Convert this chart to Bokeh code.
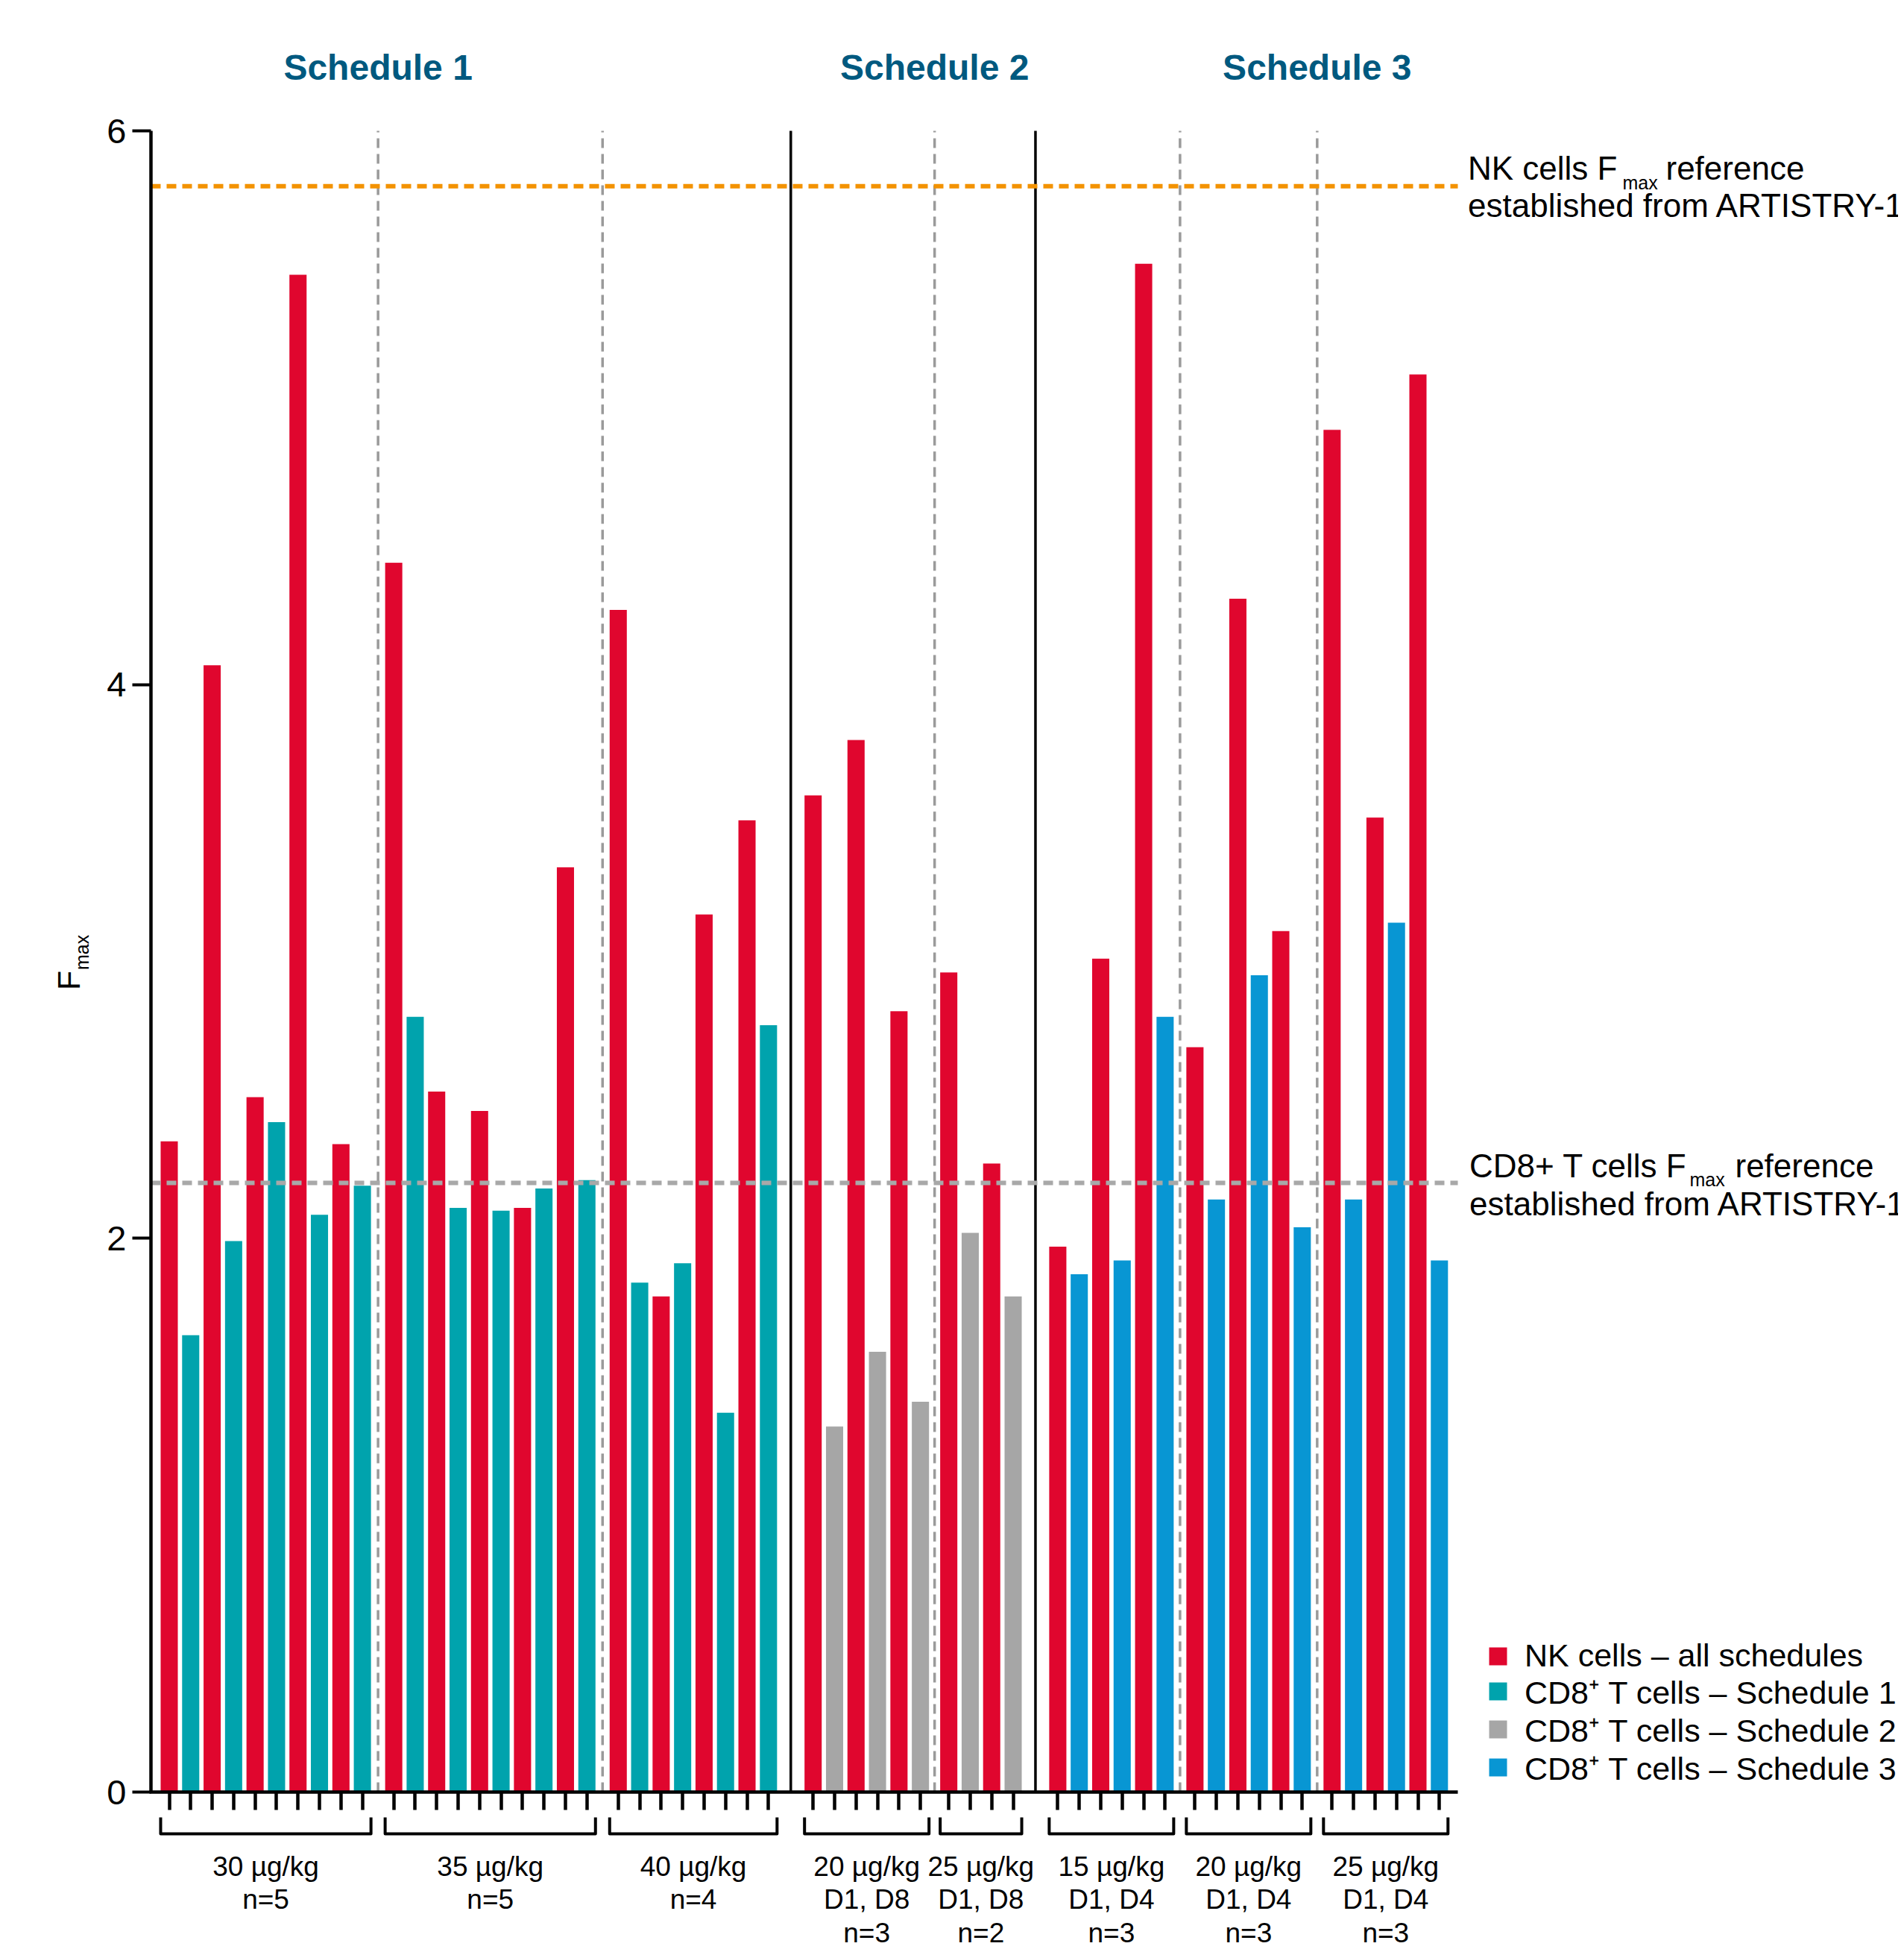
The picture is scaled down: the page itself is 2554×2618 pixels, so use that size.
import math
from bokeh.plotting import figure
from bokeh.models import (Range1d, FixedTicker, LinearAxis, Legend, LegendItem,
                          ColumnDataSource)
from bokeh.embed import file_html
from bokeh.resources import INLINE
from bokeh.core.properties import value

FONT = "Liberation Sans"

# ---------------- data ----------------
group_dose = ["30 µg/kg", "35 µg/kg", "40 µg/kg", "20 µg/kg", "25 µg/kg",
              "15 µg/kg", "20 µg/kg", "25 µg/kg"]
group_days = ["", "", "", "D1, D8", "D1, D8", "D1, D4", "D1, D4", "D1, D4"]
group_n = ["n=5", "n=5", "n=4", "n=3", "n=2", "n=3", "n=3", "n=3"]
group_schedule = [1, 1, 1, 2, 2, 3, 3, 3]

# F_max per patient (NK cells, CD8+ T cells)
nk_s1_30 = [2.35, 4.07, 2.51, 5.48, 2.34]
cd8_s1_30 = [1.65, 1.99, 2.42, 2.085, 2.19]
nk_s1_35 = [4.44, 2.53, 2.46, 2.11, 3.34]
cd8_s1_35 = [2.80, 2.11, 2.10, 2.18, 2.21]
nk_s1_40 = [4.27, 1.79, 3.17, 3.51]
cd8_s1_40 = [1.84, 1.91, 1.37, 2.77]
nk_s2_20 = [3.60, 3.80, 2.82]
cd8_s2_20 = [1.32, 1.59, 1.41]
nk_s2_25 = [2.96, 2.27]
cd8_s2_25 = [2.02, 1.79]
nk_s3_15 = [1.97, 3.01, 5.52]
cd8_s3_15 = [1.87, 1.92, 2.80]
nk_s3_20 = [2.69, 4.31, 3.11]
cd8_s3_20 = [2.14, 2.95, 2.04]
nk_s3_25 = [4.92, 3.52, 5.12]
cd8_s3_25 = [2.14, 3.14, 1.92]

nk_groups = [nk_s1_30, nk_s1_35, nk_s1_40, nk_s2_20, nk_s2_25, nk_s3_15, nk_s3_20, nk_s3_25]
cd8_groups = [cd8_s1_30, cd8_s1_35, cd8_s1_40, cd8_s2_20, cd8_s2_25, cd8_s3_15, cd8_s3_20, cd8_s3_25]

nk_reference = 5.80
cd8_reference = 2.20
y_ticks = [0, 2, 4, 6]
y_max = 6
schedule_titles = ["Schedule 1", "Schedule 2", "Schedule 3"]
legend_labels = ["NK cells \u2013 all schedules",
                 "CD8\u207a T cells \u2013 Schedule 1",
                 "CD8\u207a T cells \u2013 Schedule 2",
                 "CD8\u207a T cells \u2013 Schedule 3"]

# ---------------- style / layout ----------------
RED = "#E0062E"
CD8_COLORS = {1: "#00A3AD", 2: "#A6A6A6", 3: "#0896D3"}
TITLE_BLUE = "#00597F"
ORANGE = "#F39200"
REF_GRAY = "#A8A8A8"
SEP_GRAY = "#9A9A9A"

BAR_W = 0.8
GROUP_GAPS = [0.46, 0.46, 1.08, 0.32, 1.08, 0.39, 0.39]
SEP_SOLID = [False, False, True, False, True, False, False]
TITLE_SEP = [0, 3, 6]

W, H = 2546, 2610
X0_PX = 226.5     # pixel column of the first bar centre
XU = 28.79        # pixels per bar step
Y0_PX = 2403.0    # pixel row of F = 0
YU = 371.33       # pixels per F unit
AX_LEFT_PX, AX_RIGHT_PX = 202.0, 1955.0
DROP = 0.35       # fraction of the font size the text is drawn below its anchor


def xd(px):
    return (px - X0_PX) / XU


def yd(px):
    return (Y0_PX - px) / YU


def ypx(v):
    return Y0_PX - v * YU


def base(px, size):
    # data y for a text whose baseline should sit at pixel row px
    return yd(px - DROP * size)


# ---------------- positions ----------------
nk_x, nk_top = [], []
cd8_x = {1: [], 2: [], 3: []}
cd8_top = {1: [], 2: [], 3: []}
group_first, group_last = [], []
start = 0.0
for g in range(len(nk_groups)):
    n = len(nk_groups[g])
    for k in range(n):
        nk_x.append(start + 2 * k)
        nk_top.append(nk_groups[g][k])
        s = group_schedule[g]
        cd8_x[s].append(start + 2 * k + 1)
        cd8_top[s].append(cd8_groups[g][k])
    group_first.append(start)
    last = start + 2 * n - 1
    group_last.append(last)
    if g < len(GROUP_GAPS):
        start = last + 1 + GROUP_GAPS[g]

all_centers = sorted(nk_x + cd8_x[1] + cd8_x[2] + cd8_x[3])
sep_x = [(group_last[g] + group_first[g + 1]) / 2 for g in range(len(GROUP_GAPS))]
ax_left, ax_right = xd(AX_LEFT_PX), xd(AX_RIGHT_PX)

# ---------------- figure ----------------
p = figure(width=W, height=H, x_range=Range1d(xd(0), xd(W)),
           y_range=Range1d(yd(H), yd(0)),
           output_backend="svg", toolbar_location=None,
           x_axis_type=None, y_axis_type=None, min_border=0)
p.xgrid.visible = False
p.ygrid.visible = False
p.outline_line_color = None
p.background_fill_color = "white"
p.border_fill_color = "white"

r_nk = p.vbar(x="x", top="top", width=BAR_W, bottom=0,
              source=ColumnDataSource(dict(x=nk_x, top=nk_top)),
              fill_color=RED, line_color=None)
r_cd8 = {}
for s in (1, 2, 3):
    r_cd8[s] = p.vbar(x="x", top="top", width=BAR_W, bottom=0,
                      source=ColumnDataSource(dict(x=cd8_x[s], top=cd8_top[s])),
                      fill_color=CD8_COLORS[s], line_color=None)

# separators
solid_x = [x for x, sd in zip(sep_x, SEP_SOLID) if sd]
dash_x = [x for x, sd in zip(sep_x, SEP_SOLID) if not sd]
p.segment(x0=solid_x, y0=[0] * len(solid_x), x1=solid_x, y1=[y_max] * len(solid_x),
          line_color="black", line_width=3.5)
p.segment(x0=dash_x, y0=[0] * len(dash_x), x1=dash_x, y1=[y_max] * len(dash_x),
          line_color=SEP_GRAY, line_width=3.5, line_dash="13 8")

# reference lines
p.segment(x0=[ax_left], y0=[nk_reference], x1=[ax_right], y1=[nk_reference],
          line_color=ORANGE, line_width=6, line_dash="13 8")
p.segment(x0=[ax_left], y0=[cd8_reference], x1=[ax_right], y1=[cd8_reference],
          line_color=REF_GRAY, line_width=6, line_dash="13 8")

# axes (drawn at fixed data locations)
xa = LinearAxis(fixed_location=0, bounds=(ax_left - 2.2 / XU, ax_right))
xa.ticker = FixedTicker(ticks=all_centers, minor_ticks=[])
xa.major_tick_in = 0
xa.major_tick_out = 24
xa.major_tick_line_width = 4.5
xa.minor_tick_out = 0
xa.axis_line_width = 4.5
xa.major_label_overrides = {float(t): "" for t in all_centers}
xa.major_label_standoff = 0
p.add_layout(xa, "below")

ya = LinearAxis(fixed_location=ax_left, bounds=(0, y_max))
ya.ticker = FixedTicker(ticks=y_ticks, minor_ticks=[])
ya.major_tick_in = 0
ya.major_tick_out = 25
ya.major_tick_line_width = 4
ya.minor_tick_out = 0
ya.axis_line_width = 4.5
ya.major_label_text_font = FONT
ya.major_label_text_font_size = "47px"
ya.major_label_text_color = "black"
ya.major_label_standoff = 8
p.add_layout(ya, "left")

txt = dict(text_font=value(FONT), text_color="black", text_baseline="alphabetic",
           text_align="left")

# y axis label F_max (rotated: baseline is a pixel column)
p.text(x=[xd(107 - DROP * 43)], y=[yd(1327.5)], text=["F"], angle=math.pi / 2,
       text_font_size="43px", **txt)
p.text(x=[xd(118 - DROP * 25)], y=[yd(1300.5)], text=["max"], angle=math.pi / 2,
       text_font_size="25px", **txt)

# schedule titles
p.text(x=[sep_x[i] for i in TITLE_SEP], y=[base(107, 48)] * 3, text=schedule_titles,
       text_align="center", text_baseline="alphabetic", text_font=value(FONT),
       text_font_style="bold", text_font_size="48px", text_color=TITLE_BLUE)


# reference annotations
def ref_note(v, first, px_first, px_sub, px_ref, d1, d2, dsub):
    b = ypx(v)
    p.text(x=[xd(px_first), xd(px_ref), xd(px_first)],
           y=[base(b - d1, 44), base(b - d1, 44), base(b + d2, 44)],
           text=[first, "reference", "established from ARTISTRY-1"],
           text_font_size="44px", **txt)
    p.text(x=[xd(px_sub)], y=[base(b + dsub, 25)], text=["max"],
           text_font_size="25px", **txt)


ref_note(nk_reference, "NK cells F", 1968.5, 2176, 2234, 8.5, 41.5, 3.5)
ref_note(cd8_reference, "CD8+ T cells F", 1970.5, 2266, 2327, 7.5, 43, 3.7)

# group brackets and labels
BR_TOP_PX, BR_BOT_PX = 2437, 2459
LINE_PX = [2516, 2560, 2605]
LABEL_SIZE = 37
bxs, bys, tx, ty, tt = [], [], [], [], []
for g in range(len(group_first)):
    a = group_first[g] - BAR_W / 2
    b = group_last[g] + BAR_W / 2
    bxs.append([a, a, b, b])
    bys.append([yd(BR_TOP_PX), yd(BR_BOT_PX), yd(BR_BOT_PX), yd(BR_TOP_PX)])
    lines = [group_dose[g]] + ([group_days[g]] if group_days[g] else []) + [group_n[g]]
    for i, ln in enumerate(lines):
        tx.append((group_first[g] + group_last[g]) / 2)
        ty.append(base(LINE_PX[i], LABEL_SIZE))
        tt.append(ln)

p.multi_line(xs=bxs, ys=bys, line_color="black", line_width=4, line_join="round")
p.text(x=tx, y=ty, text=tt, text_align="center", text_baseline="alphabetic",
       text_font=value(FONT), text_font_size=f"{LABEL_SIZE}px", text_color="black")

# legend: one entry per legend so each row sits exactly where the reference has it
LEG_CENTER_PX = [2218, 2270.5, 2321.5, 2372.5]
LEG_HALF = 27
leg_renderers = [r_nk, r_cd8[1], r_cd8[2], r_cd8[3]]
for lab, rend, cy in zip(legend_labels, leg_renderers, LEG_CENTER_PX):
    lg = Legend(items=[LegendItem(label=lab, renderers=[rend])],
                location=(1994, H - (cy + LEG_HALF)), orientation="vertical",
                glyph_width=30, glyph_height=30, label_standoff=21, spacing=0,
                padding=0, margin=0, border_line_color=None,
                background_fill_alpha=0, label_text_font=FONT,
                label_text_font_size="43px", label_text_color="black")
    p.add_layout(lg)

open("out.html", "w").write(file_html(p, INLINE))
